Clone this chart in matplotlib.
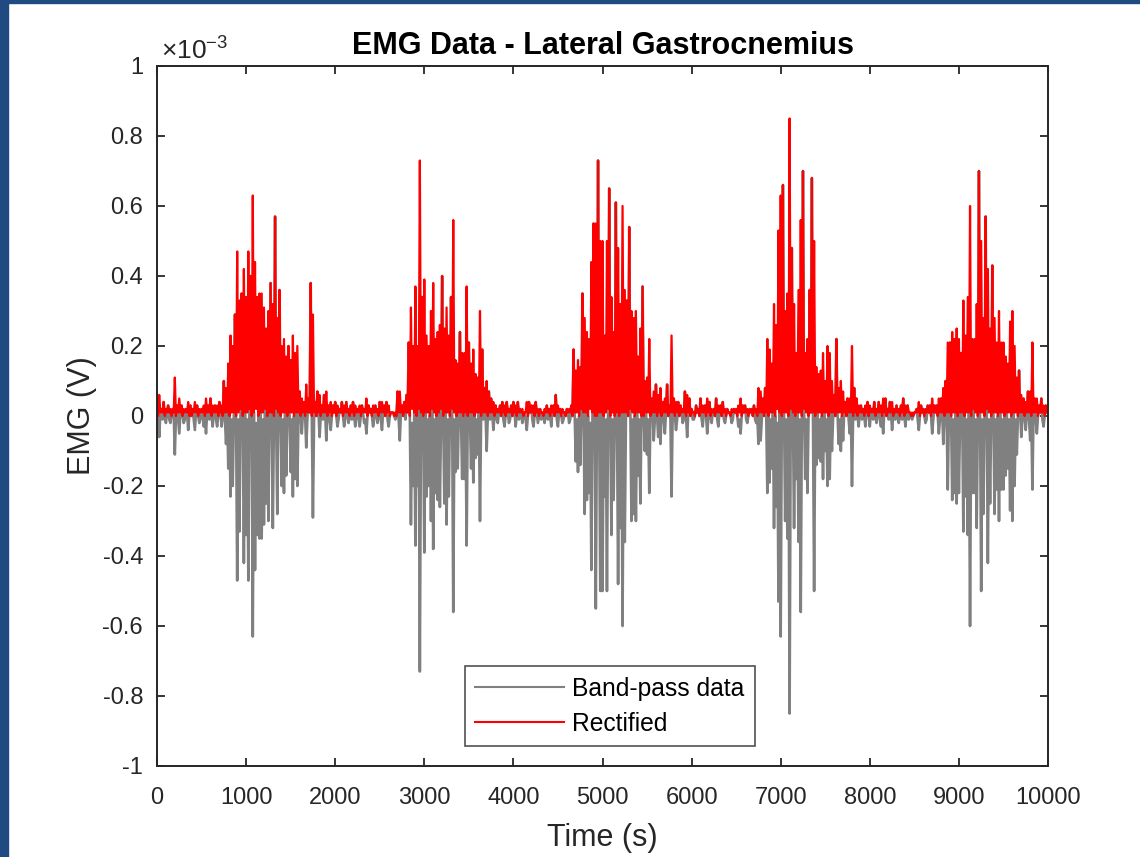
import numpy as np
import matplotlib.pyplot as plt
from matplotlib.patches import Rectangle

plt.rcParams['font.family'] = ['Liberation Sans', 'DejaVu Sans']

# band-pass EMG, units of 1e-5 V
# one sample every 25 s (the spikes), one block per 1000 s
seg_0000 = [6, -6, 2, 4, -2, 3, -2, 2, -11, 3,
            -5, 3, -2, 2, -4, 3, 2, -4, 3, -2,
            2, -3, -5, 3, 5, -3, 3, -3, 4, -3,
            10, -8, -15, -23, -20, 29, -47, -33, 35, -42]
seg_1000 = [-34, -47, 40, -63, -44, -34, -35, -35, -31, -25,
            -30, 38, -32, 57, -28, 36, -20, -22, -17, 20,
            -16, -23, -18, -20, 7, -5, 4, -9, 5, 38,
            -29, 4, 7, -6, 3, 6, -7, 3, -4, 3]
seg_2000 = [4, -3, 2, 4, -3, 4, -2, 3, 4, -3,
            2, -3, 3, -2, -5, 3, 2, -3, 3, -2,
            4, -4, 3, 4, -3, 1, 1, -1, 7, -7,
            3, 4, 6, 21, -31, -20, -37, -20, -73, 34]
seg_3000 = [-39, -23, -20, -30, -38, -22, -24, -26, 40, -25,
            -31, -23, 34, -56, -16, -15, 24, -18, -18, -37,
            21, -15, -19, -12, -11, -30, 19, 8, -10, 7,
            5, -4, 3, -2, 3, 4, -3, 4, -2, 3]
seg_4000 = [4, -3, 4, 2, -2, 1, -4, 4, 3, -3,
            4, -2, 2, 1, -2, 3, 2, -3, 3, 6,
            -3, 2, -2, 1, 2, -2, 3, 19, -13, -16,
            -14, 35, -28, -24, -22, -44, 55, -55, 73, -50]
seg_5000 = [-50, -23, -50, 65, -34, -24, 61, -48, -32, -60,
            -36, 33, 54, -30, -28, -30, -17, -25, 37, -10,
            -11, -22, 5, -7, 9, -6, -8, 4, -5, 9,
            3, -23, 5, -4, 4, 3, -2, 7, -6, 5]
seg_6000 = [2, -1, 3, 2, 5, -3, 3, -5, 4, -2,
            2, 5, -3, 3, 4, -2, 2, 1, -2, 2,
            2, -3, -5, 3, 3, -2, 2, 2, 3, -2,
            -8, -7, 5, 8, -22, -19, -15, -32, -26, -53]
seg_7000 = [-63, 66, -30, -35, -85, 48, -32, -18, -36, -56,
            70, -18, -22, 36, 68, -50, -14, -12, -13, -18,
            -10, -20, -18, -10, 6, 22, -8, -10, -7, 4,
            5, -5, -20, 8, 5, -3, 3, 2, -3, 4]
seg_8000 = [-3, 2, 4, -2, 4, -3, -5, 5, 2, 4,
            -4, 2, 3, -2, 3, 5, -3, 3, 1, -1,
            1, 2, -4, 3, 2, -2, 3, 3, -5, 3,
            3, -5, 5, -8, 10, -21, 21, -24, -22, -25]
seg_9000 = [-22, 18, -33, -23, -34, -60, -22, -22, -32, 70,
            -50, -28, 57, -42, -25, 43, -28, -21, -30, -21,
            -21, -17, -15, -27, -30, -20, -11, 13, -6, 5,
            -4, 7, -7, -21, 5, -5, 3, 5, -3, 3]

# samples between the spikes (12.5 s later), same units
gap_0000 = [0, 1, -1, 0, 1, -1, 0, 1, 0, -1,
            1, 0, -1, 1, 0, 0, -1, 1, 0, -1,
            1, 0, 1, -1, 0, 1, -1, 0, 1, 0,
            -1, 1, 0, -1, 1, 0, -1, 2, 0, 1]
gap_1000 = [-1, 2, 0, 1, -2, 0, 1, -1, 2, 0,
            -1, 1, 0, -2, 1, 0, -1, 1, 0, 1,
            -1, 0, 1, -1, 0, 1, 0, -1, 1, 0,
            -1, 0, 1, 0, -1, 1, 0, -1, 0, 1]
gap_2000 = [0, -1, 1, 0, -1, 1, 0, -1, 0, 1,
            -1, 0, 1, -1, 0, 1, 0, -1, 1, 0,
            -1, 1, 0, -1, 0, 1, 0, 0, -1, 1,
            0, -1, 1, 0, -2, 1, 0, 2, -1, 0]
gap_3000 = [1, -1, 0, 2, -1, 0, 1, -2, 0, 1,
            -1, 0, 2, -1, 0, 1, -1, 0, 1, 0,
            -1, 1, 0, -1, 1, 0, -1, 1, 0, -1,
            1, 0, -1, 1, 0, -1, 0, 1, -1, 0]
gap_4000 = [1, 0, -1, 1, 0, -1, 0, 1, -1, 0,
            1, 0, -1, 0, 1, -1, 0, 1, 0, -1,
            1, 0, -1, 0, 1, -1, 0, 1, -1, 0,
            2, -1, 1, 0, -2, 1, 0, 0, 1, 1]
gap_5000 = [0, -1, 2, 0, -1, 0, 1, 0, 1, 1,
            -1, 0, 2, -1, 0, 1, -1, 0, 0, 1,
            -1, 0, 1, -1, 0, 1, 0, -1, 1, 0,
            -1, 1, 0, -1, 0, 1, -1, 0, 1, 0]
gap_6000 = [-1, 0, 1, 0, -1, 1, 0, -1, 0, 1,
            0, -1, 1, 0, -1, 0, 1, 0, -1, 1,
            0, -1, 0, 1, -1, 0, 1, 0, -1, 0,
            1, -1, 0, 1, 0, -1, 1, 0, -2, 1]
gap_7000 = [0, 1, -1, 0, 2, -1, 0, 1, -1, 0,
            2, -1, 0, 1, -1, 0, 1, -1, 0, 1,
            -1, 0, 1, -1, 0, 1, -1, 0, 1, 0,
            -1, 1, 0, -1, 0, 1, -1, 0, 1, 0]
gap_8000 = [1, -1, 0, 1, -1, 0, 1, 0, -1, 1,
            0, -1, 1, 0, -1, 0, 1, -1, 0, 0,
            1, -1, 0, 1, 0, -1, 1, 0, -1, 1,
            0, -1, 1, 0, -1, 1, 0, -1, 1, 0]
gap_9000 = [-1, 1, 0, -1, 1, 0, 2, -1, 0, 1,
            -1, 0, 2, -1, 0, 1, -1, 0, 1, -1,
            0, 1, -1, 0, 1, -1, 0, 1, -1, 0,
            1, -1, 0, 1, -1, 0, 1, -1, 0, 1]

xtick_vals = [0, 1000, 2000, 3000, 4000, 5000, 6000, 7000, 8000, 9000, 10000]
ytick_vals = [-1e-3, -0.8e-3, -0.6e-3, -0.4e-3, -0.2e-3, 0, 0.2e-3, 0.4e-3, 0.6e-3, 0.8e-3, 1e-3]
ytick_labels = ['-1', '-0.8', '-0.6', '-0.4', '-0.2', '0', '0.2', '0.4', '0.6', '0.8', '1']

peak_segs = [seg_0000, seg_1000, seg_2000, seg_3000, seg_4000,
             seg_5000, seg_6000, seg_7000, seg_8000, seg_9000]
gap_segs = [gap_0000, gap_1000, gap_2000, gap_3000, gap_4000,
            gap_5000, gap_6000, gap_7000, gap_8000, gap_9000]

# interleave spikes and in-between samples
t_list = []
v_list = []
for k in range(len(peak_segs)):
    start = k * 1000
    for i in range(len(peak_segs[k])):
        t_list += [start + i * 25, start + i * 25 + 12.5]
        v_list += [peak_segs[k][i], gap_segs[k][i]]
time_s = np.array(t_list)
band_pass = np.array(v_list) * 1e-5
rectified = np.abs(band_pass)

# figure
fig = plt.figure(figsize=(11.4, 8.57), dpi=100)
ax = fig.add_axes([157 / 1140, 1 - 766 / 857, 891 / 1140, 700 / 857])

ax.plot(time_s, band_pass, color='#808080', lw=1.9, label='Band-pass data')
ax.plot(time_s, rectified, color='#ff0000', lw=1.6, label='Rectified')

ax.set_xlim(0, 10000)
ax.set_ylim(-1e-3, 1e-3)
ax.set_xticks(xtick_vals)
ax.set_xticklabels([str(v) for v in xtick_vals])
ax.set_yticks(ytick_vals)
ax.set_yticklabels(ytick_labels)

axis_col = '#262626'
for sp in ax.spines.values():
    sp.set_linewidth(1.4)
    sp.set_color(axis_col)
ax.tick_params(direction='in', length=6, width=1.3, top=True, right=True,
               labelsize=17, colors=axis_col)
ax.tick_params(axis='x', pad=15)
ax.tick_params(axis='y', pad=10)

# exponent label
ax.text(0.004, 1.002, '×' + r'$\mathregular{10^{-3}}$', transform=ax.transAxes,
        ha='left', va='bottom', fontsize=19, color=axis_col)

ax.set_title('EMG Data - Lateral Gastrocnemius', fontsize=22, fontweight='bold', pad=9)
ax.set_xlabel('Time (s)', fontsize=22, color=axis_col, labelpad=10)
ax.set_ylabel('EMG (V)', fontsize=22, color=axis_col, labelpad=4)

leg = ax.legend(loc='lower left', bbox_to_anchor=(0.3457, 0.0286), fontsize=17.7,
                frameon=True, fancybox=False, handlelength=3.6, handletextpad=0.35,
                labelspacing=0.45, borderpad=0.42, borderaxespad=0)
leg.get_frame().set_edgecolor(axis_col)
leg.get_frame().set_linewidth(1.2)
for line in leg.get_lines():
    line.set_linewidth(1.5)

# window border
fig.add_artist(Rectangle((0, 0), 8 / 1140, 1, transform=fig.transFigure,
                         color='#1f4b82', zorder=10))
fig.add_artist(Rectangle((0, 1 - 3 / 857), 1, 3 / 857, transform=fig.transFigure,
                         color='#1f4b82', zorder=10))

fig.savefig('out.png', dpi=100)
